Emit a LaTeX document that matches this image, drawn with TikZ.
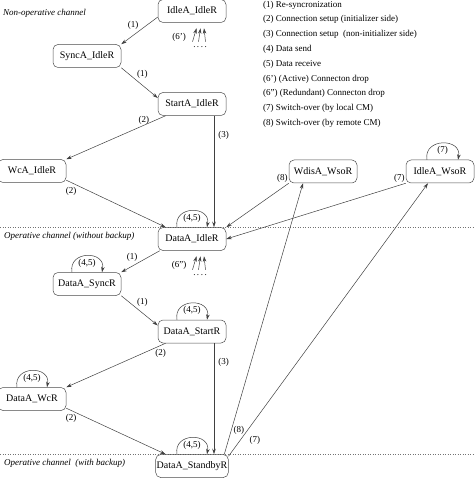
\documentclass[tikz,border=0pt]{standalone}
\usepackage{fontspec}
\setmainfont{Liberation Serif}
\usetikzlibrary{arrows.meta}

\begin{document}
\begin{tikzpicture}[x=1pt,y=-1pt,
    state/.style={draw=black!70,line width=.5pt,rounded corners=5pt,minimum width=68pt,
      minimum height=23pt,inner xsep=1pt,font=\fontsize{10}{12}\selectfont},
    arr/.style={draw=black!75,line width=.5pt,-{Stealth[length=5.5pt,width=3.5pt]}},
    lbl/.style={font=\fontsize{9}{11}\selectfont,inner sep=1pt},
    legend/.style={font=\fontsize{9}{11}\selectfont,anchor=west,inner sep=0pt},
    sect/.style={font=\fontsize{9}{11}\selectfont\itshape,anchor=west,inner sep=0pt},
    sep/.style={draw=black!55,dotted,line width=.5pt}]
  \useasboundingbox (0,0) rectangle (474,478);

  % channel borders
  \draw[sep] (0,227.5) -- (474,227.5);
  \draw[sep] (0,454.5) -- (474,454.5);
  \node[sect] (secNon)  at (3,13)    {Non-operative channel};
  \node[sect] (secOpen) at (4,236.5) {Operative channel (without backup)};
  \node[sect] (secBack) at (4,463.5) {Operative channel\ \ (with backup)};

  % legend
  \foreach \txt [count=\i from 0] in {(1) Re-syncronization,
      (2) Connection setup (initializer side),
      (3) Connection setup\ \ (non-initializer side),
      (4) Data send, (5) Data receive,
      (6') (Active) Connecton drop,
      (6'') (Redundant) Connecton drop,
      (7) Switch-over (by local CM),
      (8) Switch-over (by remote CM)}
    \node[legend] (leg\i) at (263,{5+14.8*\i}) {\txt};

  % states
  \node[state] (IdleIdle)    at (192,11)    {IdleA\_IdleR};
  \node[state] (SyncIdle)    at (87,56)     {SyncA\_IdleR};
  \node[state] (StartIdle)   at (192,104)   {StartA\_IdleR};
  \node[state] (WcIdle)      at (32,171)    {WcA\_IdleR};
  \node[state] (DataIdle)    at (192,239)   {DataA\_IdleR};
  \node[state] (DataSync)    at (87,284)    {DataA\_SyncR};
  \node[state] (DataStart)   at (192,331.5) {DataA\_StartR};
  \node[state] (DataWc)      at (32,399)    {DataA\_WcR};
  \node[state] (DataStandby) at (192,466)   {DataA\_StandbyR};
  \node[state] (WdisWso)     at (323,171.5) {WdisA\_WsoR};
  \node[state] (IdleWso)     at (440,171.5) {IdleA\_WsoR};

  % transitions
  \draw[arr] (IdleIdle.190) -- node[lbl,above left] {(1)} (SyncIdle.north east);
  \draw[arr] (SyncIdle.south east) -- node[lbl,pos=.4,above right] {(1)} (StartIdle.170);
  \draw[arr] (StartIdle.204) -- node[lbl,pos=.22,above] {(2)} (WcIdle.north east);
  \draw[arr] ([xshift=22pt]StartIdle.south) -- node[lbl,pos=.18,right=3pt] {(3)} ([xshift=22pt]DataIdle.north);
  \draw[arr] (WcIdle.-15) -- node[lbl,pos=.05,below=3pt] {(2)} (DataIdle.156);
  \draw[arr] (DataIdle.200) -- node[lbl,pos=.55,above left] {(1)} (DataSync.north east);
  \draw[arr] (DataSync.south east) -- node[lbl,pos=.4,above right] {(1)} (DataStart.170);
  \draw[arr] (DataStart.204) -- node[lbl,pos=.05,below=3pt] {(2)} (DataWc.north east);
  \draw[arr] ([xshift=22pt]DataStart.south) -- node[lbl,pos=.17,right=3pt] {(3)} ([xshift=22pt]DataStandby.north);
  \draw[arr] (DataWc.-15) -- node[lbl,pos=.05,below=3pt] {(2)} (DataStandby.156);
  \draw[arr] (WdisWso.south west) -- node[lbl,pos=0,above left] {(8)} (DataIdle.north east);
  \draw[arr] (IdleWso.south west) -- node[lbl,pos=0,above left] {(7)} (DataIdle.east);
  \draw[arr] (DataStandby.20) -- node[lbl,pos=.09,right=1pt] {(8)} ([xshift=-20pt]WdisWso.south);
  \draw[arr] (DataStandby.15) -- node[lbl,pos=.06,right=8pt] {(7)} ([xshift=-12pt]IdleWso.south);

  % self loops
  \foreach \n in {DataIdle,DataSync,DataStart,DataWc,DataStandby}
    \draw[arr] ([xshift=-15pt]\n.north) .. controls +(-4,-22) and +(4,-22) ..
      node[lbl,below=2pt] {(4,5)} ([xshift=15pt]\n.north);
  \draw[arr] ([xshift=-13pt]IdleWso.north) .. controls +(-4,-22) and +(4,-22) ..
    node[lbl,below=2pt] {(7)} ([xshift=18pt]IdleWso.north);

  % connection drops
  \foreach \n/\txt in {IdleIdle/(6'),DataIdle/(6'')} {
    \foreach \a/\b in {0.5/4.5,6.5/8.5,13.5/12}
      \draw[arr] ([xshift=\a pt,yshift=-19pt]\n.south) -- ([xshift=\b pt,yshift=-5.5pt]\n.south);
    \node[lbl] (drop\n) at ([xshift=-13pt,yshift=-15pt]\n.south) {\txt};
    \node[inner sep=0pt,font=\fontsize{9}{11}\selectfont] (dots\n) at ([xshift=8pt,yshift=-24.5pt]\n.south) {.\,.\,.\,.};
  }
\end{tikzpicture}
\end{document}
